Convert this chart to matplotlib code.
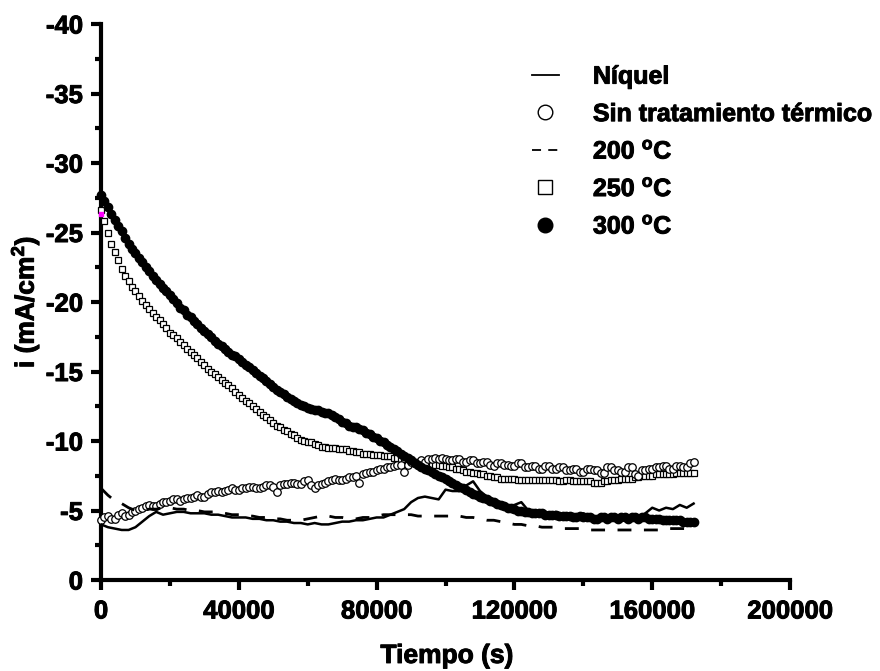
import numpy as np
import matplotlib
matplotlib.use("Agg")
import matplotlib.pyplot as plt
import matplotlib.patheffects as pe
from matplotlib.lines import Line2D

plt.rcParams['font.family'] = ['Liberation Sans', 'DejaVu Sans']
plt.rcParams['font.weight'] = 'bold'
plt.rcParams['axes.unicode_minus'] = False
plt.rcParams['mathtext.fontset'] = 'custom'
plt.rcParams['mathtext.rm'] = 'Liberation Sans:bold'
plt.rcParams['mathtext.it'] = 'Liberation Sans:bold'
plt.rcParams['mathtext.bf'] = 'Liberation Sans:bold'

# readings every 1000 s for the marker series, every 2000 s for the lines
tiempo = np.arange(0, 172001, 1000)
tiempo_lineas = np.arange(0, 172001, 2000)

niquel = [-4.0, -3.8, -3.7, -3.6, -3.6, -3.8, -4.2, -4.6, -4.9, -4.7,
          -4.8, -4.9, -4.9, -4.8, -4.8, -4.8, -4.7, -4.7, -4.6, -4.5,
          -4.5, -4.5, -4.4, -4.4, -4.3, -4.3, -4.2, -4.2, -4.1, -4.1,
          -4.0, -4.1, -4.0, -4.0, -4.1, -4.2, -4.2, -4.3, -4.3, -4.4,
          -4.5, -4.5, -4.7, -4.9, -5.1, -5.6, -5.9, -6.0, -5.9, -5.8,
          -6.5, -6.4, -6.4, -6.8, -7.1, -6.4, -6.0, -5.6, -5.4, -5.3,
          -5.4, -5.6, -5.0, -4.9, -5.0, -4.8, -4.9, -4.7, -4.8, -4.6,
          -4.8, -4.6, -4.5, -4.7, -4.5, -4.6, -4.4, -4.6, -4.5, -4.8,
          -5.2, -5.0, -5.2, -5.1, -5.4, -5.2, -5.5]

t200 = [-6.6, -6.1, -5.7, -5.5, -5.2, -5.0, -5.0, -5.1, -5.1, -5.2,
        -5.2, -5.1, -5.1, -5.0, -5.0, -4.9, -4.9, -4.9, -4.8, -4.7,
        -4.7, -4.6, -4.6, -4.5, -4.5, -4.4, -4.4, -4.3, -4.3, -4.3,
        -4.4, -4.5, -4.6, -4.6, -4.5, -4.5, -4.4, -4.4, -4.5, -4.5,
        -4.6, -4.7, -4.7, -4.7, -4.7, -4.7, -4.6, -4.6, -4.6, -4.6,
        -4.6, -4.6, -4.6, -4.5, -4.5, -4.4, -4.3, -4.3, -4.2, -4.1,
        -4.0, -4.0, -3.9, -3.9, -3.8, -3.8, -3.8, -3.7, -3.7, -3.7,
        -3.7, -3.6, -3.6, -3.6, -3.6, -3.6, -3.6, -3.6, -3.6, -3.6,
        -3.6, -3.6, -3.7, -3.7, -3.7, -3.7, -3.7]

sin_tratamiento = [
    -4.3, -4.5, -4.6, -4.4, -4.4, -4.7, -4.8, -4.6, -4.7, -4.9,
    -5.0, -5.1, -5.2, -5.3, -5.4, -5.3, -5.3, -5.5, -5.6, -5.6,
    -5.7, -5.8, -5.8, -5.7, -5.8, -5.9, -5.9, -6.0, -6.1, -6.0,
    -6.0, -6.2, -6.3, -6.3, -6.4, -6.3, -6.4, -6.5, -6.6, -6.5,
    -6.5, -6.6, -6.6, -6.7, -6.7, -6.6, -6.6, -6.7, -6.8, -6.8,
    -6.7, -6.3, -6.8, -6.9, -6.9, -7.0, -7.0, -6.9, -6.9, -7.1,
    -7.2, -6.8, -6.6, -6.8, -6.9, -7.0, -7.1, -7.2, -7.3, -7.2,
    -7.2, -7.3, -7.4, -7.4, -7.5, -7.0, -7.6, -7.7, -7.8, -7.8,
    -7.9, -8.0, -8.0, -8.1, -8.1, -8.2, -8.3, -8.3, -7.8, -8.3,
    -8.5, -8.4, -8.4, -8.6, -8.5, -8.7, -8.7, -8.8, -8.7, -8.8,
    -8.7, -8.6, -8.6, -8.7, -8.7, -8.5, -8.5, -8.6, -8.6, -8.4,
    -8.4, -8.5, -8.5, -8.3, -8.2, -8.4, -8.4, -8.3, -8.3, -8.2,
    -8.2, -8.4, -8.4, -8.1, -8.1, -8.2, -8.2, -8.0, -8.0, -8.2,
    -8.2, -8.0, -8.0, -8.1, -8.1, -7.9, -7.9, -8.0, -8.0, -7.8,
    -7.8, -8.0, -8.0, -7.9, -7.9, -7.7, -7.7, -8.1, -8.1, -7.9,
    -7.9, -7.8, -7.8, -8.1, -8.1, -7.6, -7.5, -7.9, -7.9, -8.0,
    -8.0, -8.1, -8.1, -8.2, -8.2, -8.0, -8.0, -8.2, -8.2, -8.1,
    -8.1, -8.4, -8.5]

t250 = [
    -26.6, -25.8, -25.0, -24.2, -23.6, -23.0, -22.4, -21.9, -21.5, -21.1,
    -20.8, -20.4, -20.1, -19.8, -19.5, -19.2, -18.9, -18.7, -18.4, -18.1,
    -17.8, -17.6, -17.4, -17.1, -16.9, -16.6, -16.4, -16.2, -16.0, -15.7,
    -15.5, -15.2, -15.0, -14.8, -14.6, -14.4, -14.2, -14.0, -13.8, -13.5,
    -13.3, -13.1, -12.9, -12.7, -12.5, -12.3, -12.1, -11.9, -11.7, -11.5,
    -11.3, -11.1, -11.0, -10.8, -10.7, -10.5, -10.4, -10.2, -10.1, -10.0,
    -9.9, -9.9, -9.8, -9.7, -9.6, -9.6, -9.5, -9.5, -9.5, -9.4,
    -9.4, -9.4, -9.3, -9.3, -9.2, -9.2, -9.1, -9.1, -9.1, -9.0,
    -9.0, -9.0, -8.9, -8.9, -8.9, -8.8, -8.8, -8.7, -8.7, -8.6,
    -8.6, -8.5, -8.5, -8.4, -8.4, -8.4, -8.3, -8.3, -8.3, -8.2,
    -8.2, -8.1, -8.1, -8.0, -8.0, -7.9, -7.8, -7.8, -7.7, -7.7,
    -7.6, -7.6, -7.5, -7.5, -7.4, -7.4, -7.3, -7.3, -7.3, -7.3,
    -7.3, -7.2, -7.2, -7.2, -7.2, -7.2, -7.2, -7.2, -7.2, -7.2,
    -7.2, -7.2, -7.2, -7.1, -7.1, -7.2, -7.2, -7.1, -7.1, -7.1,
    -7.1, -7.1, -7.1, -7.0, -7.0, -7.0, -7.1, -7.1, -7.2, -7.2,
    -7.2, -7.3, -7.3, -7.3, -7.3, -7.4, -7.4, -7.5, -7.5, -7.5,
    -7.5, -7.6, -7.6, -7.6, -7.6, -7.6, -7.6, -7.7, -7.7, -7.7,
    -7.7, -7.7, -7.7]

t300 = [
    -27.7, -27.3, -26.8, -26.3, -25.9, -25.5, -25.1, -24.6, -24.2, -23.8,
    -23.5, -23.2, -22.9, -22.5, -22.2, -21.9, -21.6, -21.3, -21.0, -20.8,
    -20.5, -20.2, -19.9, -19.6, -19.4, -19.1, -18.9, -18.6, -18.4, -18.1,
    -17.9, -17.7, -17.5, -17.2, -17.0, -16.8, -16.6, -16.4, -16.2, -16.1,
    -15.9, -15.7, -15.5, -15.3, -15.1, -14.9, -14.7, -14.5, -14.3, -14.1,
    -13.9, -13.7, -13.5, -13.4, -13.2, -13.0, -12.9, -12.7, -12.6, -12.5,
    -12.4, -12.3, -12.2, -12.2, -12.1, -12.0, -12.0, -11.9, -11.7, -11.6,
    -11.4, -11.3, -11.1, -11.0, -11.0, -10.9, -10.8, -10.6, -10.5, -10.3,
    -10.2, -10.0, -9.9, -9.7, -9.6, -9.4, -9.3, -9.1, -8.9, -8.8,
    -8.6, -8.4, -8.3, -8.1, -8.0, -7.9, -7.8, -7.6, -7.5, -7.4,
    -7.3, -7.1, -7.0, -6.8, -6.7, -6.6, -6.5, -6.3, -6.2, -6.1,
    -6.0, -5.9, -5.8, -5.7, -5.6, -5.5, -5.4, -5.3, -5.2, -5.2,
    -5.1, -5.0, -5.0, -4.9, -4.9, -4.8, -4.8, -4.8, -4.8, -4.7,
    -4.7, -4.7, -4.7, -4.6, -4.6, -4.6, -4.6, -4.5, -4.5, -4.6,
    -4.5, -4.5, -4.5, -4.4, -4.4, -4.5, -4.5, -4.4, -4.5, -4.5,
    -4.4, -4.5, -4.5, -4.4, -4.5, -4.5, -4.4, -4.5, -4.5, -4.4,
    -4.4, -4.4, -4.4, -4.3, -4.3, -4.3, -4.3, -4.3, -4.3, -4.2,
    -4.2, -4.2, -4.2]

heavy = [pe.withStroke(linewidth=0.7, foreground='black')]

fig = plt.figure(figsize=(8.8, 6.71), dpi=100)
ax = fig.add_axes([0.1148, 0.1356, 0.783, 0.8286])

ax.plot(tiempo, t250, ls='none', marker='s', ms=4.4, mfc='white', mec='black',
        mew=0.9, clip_on=False, zorder=3)
ax.plot(tiempo, sin_tratamiento, ls='none', marker='o', ms=5.4, mfc='white',
        mec='black', mew=0.9, clip_on=False, zorder=4)
ax.plot(tiempo_lineas, t200, color='black', lw=2.0, dashes=(5, 4.5), zorder=5)
ax.plot(tiempo_lineas, niquel, color='black', lw=1.8, zorder=5)
ax.plot(tiempo, t300, ls='none', marker='o', ms=6, color='black',
        clip_on=False, zorder=6)
# stray first reading shown in magenta at t = 0
ax.plot([0], [-26.3], ls='none', marker='s', ms=2.5, color='magenta',
        clip_on=False, zorder=7)

ax.set_xlim(0, 200000)
ax.set_ylim(0, -40)
ax.set_xticks(np.arange(0, 200001, 40000))
ax.set_xticks(np.arange(20000, 200000, 40000), minor=True)
ax.set_yticks(np.arange(0, -41, -5))
ax.set_yticks(np.arange(-2.5, -40, -5), minor=True)

for side in ['top', 'right']:
    ax.spines[side].set_visible(False)
for side in ['left', 'bottom']:
    ax.spines[side].set_linewidth(3)

ax.tick_params(which='major', direction='out', length=7, width=3, labelsize=18.5)
ax.tick_params(which='minor', direction='out', length=4, width=3)
ax.tick_params(axis='y', which='major', pad=6)
ax.tick_params(axis='x', which='major', pad=7)
for lab in ax.get_xticklabels() + ax.get_yticklabels():
    lab.set_path_effects(heavy)

ax.set_xlabel('Tiempo (s)', fontsize=19, fontweight='bold', path_effects=heavy)
ax.set_ylabel('i (mA/cm$^2$)', fontsize=19, fontweight='bold', path_effects=heavy)
ax.xaxis.set_label_coords(0.502, -0.115)
ax.yaxis.set_label_coords(-0.087, 0.5)

handles = [
    Line2D([], [], color='black', lw=1.3),
    Line2D([], [], ls='none', marker='o', ms=10.5, mfc='white', mec='black', mew=1.0),
    Line2D([], [], color='black', lw=1.3, dashes=(5, 4)),
    Line2D([], [], ls='none', marker='s', ms=10.5, mfc='white', mec='black', mew=1.0),
    Line2D([], [], ls='none', marker='o', ms=10.5, color='black'),
]
labels = ['Níquel', 'Sin tratamiento térmico', r'200 $^{\mathrm{o}}$C',
          r'250 $^{\mathrm{o}}$C', r'300 $^{\mathrm{o}}$C']
leg = ax.legend(handles, labels, loc='upper left', bbox_to_anchor=(0.625, 0.927),
                frameon=False, fontsize=18, handlelength=1.1, handletextpad=1.35,
                labelspacing=0.54, borderpad=0, borderaxespad=0)
for txt in leg.get_texts():
    txt.set_path_effects(heavy)

fig.savefig('out.png', dpi=100)
